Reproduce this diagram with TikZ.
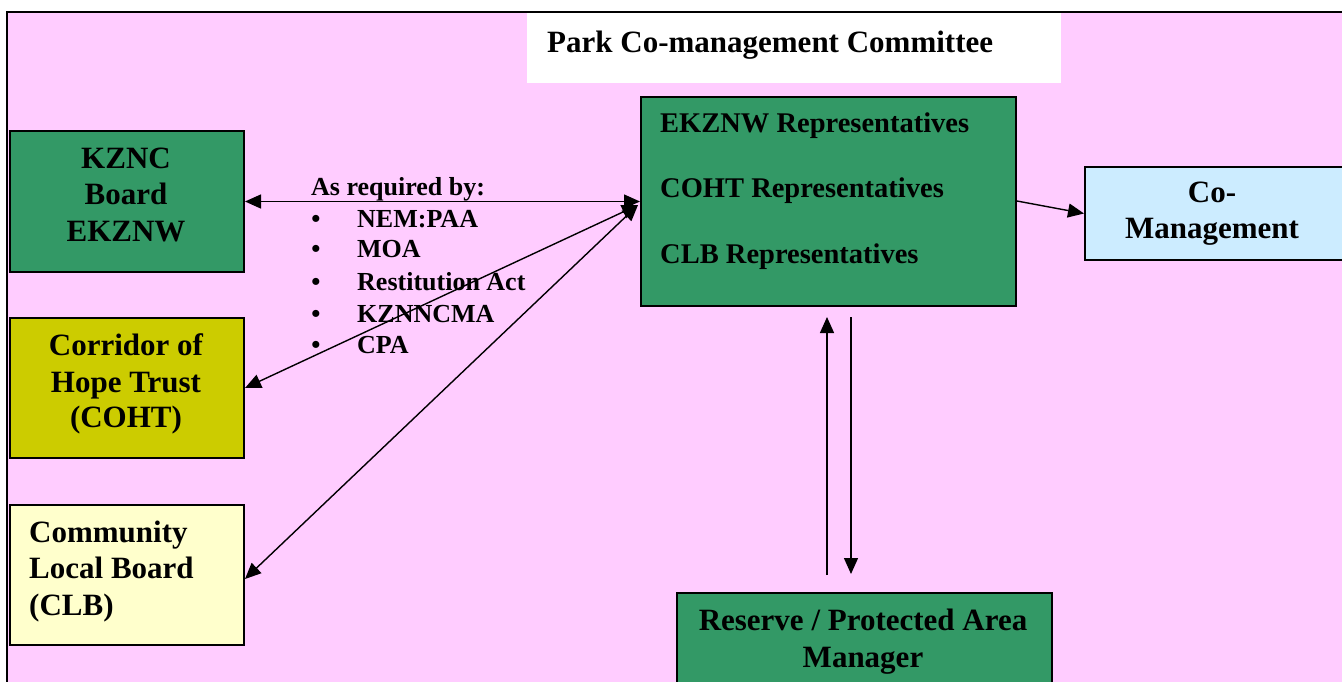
\documentclass[tikz,border=0pt]{standalone}
\usepackage{fontspec}
\setmainfont{Liberation Serif}
\usetikzlibrary{arrows.meta}
\definecolor{bgpink}{HTML}{FFCCFF}
\definecolor{dgreen}{HTML}{339966}
\definecolor{olive}{HTML}{CCCC00}
\definecolor{lyellow}{HTML}{FFFFCC}
\definecolor{lblue}{HTML}{CCECFF}
\begin{document}
\begin{tikzpicture}[x=1pt,y=-1pt,
  box/.style={draw=black, line width=2pt, inner sep=0pt, anchor=north west},
  big/.style={anchor=base, inner sep=0pt, font=\bfseries\fontsize{31}{36}\selectfont},
  bigl/.style={anchor=base west, inner sep=0pt, font=\bfseries\fontsize{31}{36}\selectfont},
  repl/.style={anchor=base west, inner sep=0pt, font=\bfseries\fontsize{28.5}{36}\selectfont},
  small/.style={anchor=base west, inner sep=0pt, font=\bfseries\fontsize{26}{30}\selectfont},
  arr/.style={line width=1.4pt, -{Triangle[length=16pt,width=14pt]}},
  darr/.style={line width=1.4pt, {Triangle[length=16pt,width=14pt]}-{Triangle[length=16pt,width=14pt]}}]
\useasboundingbox (0,0) rectangle (1342,681);
\fill[white] (0,0) rectangle (1342,681);
\draw[fill=bgpink, line width=2pt] (7,12) rectangle (1380,720);
\fill[white] (527,13) rectangle (1061,83);
\node[bigl] (title) at (547,52) {Park Co-management Committee};

% boxes
\node[box, fill=dgreen, minimum width=234pt, minimum height=141pt] (kznc) at (9,130) {};
\node[box, fill=olive, minimum width=234pt, minimum height=140pt] (coht) at (9,317) {};
\node[box, fill=lyellow, minimum width=234pt, minimum height=140pt] (clb) at (9,504) {};
\node[box, fill=dgreen, minimum width=375pt, minimum height=209pt] (reps) at (640,96) {};
\node[box, fill=lblue, minimum width=270pt, minimum height=93pt] (coman) at (1084,166) {};
\node[box, fill=dgreen, minimum width=375pt, minimum height=120pt] (rpam) at (676,592) {};

% texts
\node[big] (t1a) at (126,168) {KZNC};
\node[big] (t1b) at (126,204) {Board};
\node[big] (t1c) at (126,241) {EKZNW};
\node[big] (t2a) at (126,355) {Corridor of};
\node[big] (t2b) at (126,392) {Hope Trust};
\node[big] (t2c) at (126,427) {(COHT)};
\node[bigl] (t3a) at (29,542) {Community};
\node[bigl] (t3b) at (29,578) {Local Board};
\node[bigl] (t3c) at (29,615) {(CLB)};
\node[repl] (r1) at (660,132) {EKZNW Representatives};
\node[repl] (r2) at (660,197) {COHT Representatives};
\node[repl] (r3) at (660,263) {CLB Representatives};
\node[big] (c1) at (1212,202) {Co-};
\node[big] (c2) at (1212,238) {Management};
\node[big] (m1) at (863,630) {Reserve / Protected Area};
\node[big] (m2) at (863,667) {Manager};

% list
\node[small] (req) at (311,195) {As required by:};
\foreach \y/\t [count=\i] in {227/NEM:PAA,257/MOA,290/Restitution Act,322/KZNNCMA,353/CPA}{
  \node[small, anchor=base] (b\i) at (316,\y) {\textbullet};
  \node[small] (l\i) at (357,\y) {\t};
}

% connectors
\coordinate (j) at (638,205);
\draw[darr] (kznc.east) -- (kznc.east -| reps.west);
\draw[darr] (coht.east) -- (j);
\draw[darr] ([yshift=-4pt]clb.east) -- (j);
\draw[arr] ([yshift=0.5pt]reps.east) -- (coman.west);
\coordinate (u1) at (827,575);
\coordinate (u2) at (827,317);
\coordinate (d1) at (851,317);
\coordinate (d2) at (851,574);
\draw[arr] (u1) -- (u2);
\draw[arr] (d1) -- (d2);
\end{tikzpicture}
\end{document}
